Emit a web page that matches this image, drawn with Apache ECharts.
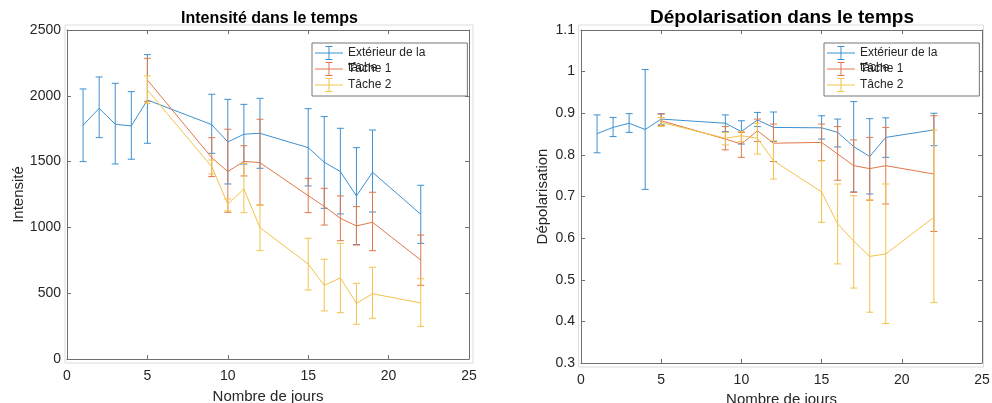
<!DOCTYPE html>
<html>
<head>
<meta charset="utf-8">
<script src="https://cdn.jsdelivr.net/npm/echarts@6/dist/echarts.min.js"></script>
<style>
html,body{margin:0;padding:0;background:#fff;}
#chart{width:992px;height:403px;}
</style>
</head>
<body>
<div id="chart"></div>
<script>
// ---- Data ----
var seriesNames = ['Extérieur de la tâche', 'Tâche 1', 'Tâche 2'];
var legendLabels = ['Extérieur de la', 'Tâche 1', 'Tâche 2'];

var daysExt = [1, 2, 3, 4, 5, 9, 10, 11, 12, 15, 16, 17, 18, 19, 22];
var daysTache = [5, 9, 10, 11, 12, 15, 16, 17, 18, 19, 22];

// Intensité
var intExt     = [1776, 1905, 1784, 1771, 1968, 1781, 1649, 1708, 1715, 1606, 1495, 1424, 1239, 1419, 1100];
var intExtLow  = [1500, 1682, 1482, 1518, 1639, 1563, 1330, 1481, 1449, 1315, 1145, 1102, 870, 1117, 879];
var intExtHigh = [2052, 2143, 2095, 2032, 2313, 2012, 1973, 1935, 1981, 1902, 1842, 1753, 1606, 1740, 1320];

var intT1     = [2120, 1530, 1424, 1502, 1492, 1241, 1160, 1069, 1011, 1039, 752];
var intT1Low  = [1958, 1386, 1115, 1391, 1170, 1112, 1018, 899, 866, 823, 560];
var intT1High = [2285, 1682, 1746, 1621, 1822, 1373, 1297, 1239, 1158, 1267, 942];

var intT2     = [2044, 1462, 1176, 1292, 998, 722, 560, 616, 423, 496, 426];
var intT2Low  = [1943, 1406, 1125, 1112, 823, 524, 365, 352, 264, 309, 248];
var intT2High = [2151, 1512, 1216, 1487, 1170, 917, 758, 879, 575, 697, 610];

// Dépolarisation
var depExt     = [0.851, 0.866, 0.876, 0.861, 0.886, 0.876, 0.856, 0.884, 0.866, 0.865, 0.854, 0.820, 0.796, 0.842, 0.860];
var depExtLow  = [0.805, 0.844, 0.854, 0.717, 0.872, 0.856, 0.826, 0.868, 0.832, 0.838, 0.819, 0.711, 0.706, 0.794, 0.822];
var depExtHigh = [0.896, 0.890, 0.899, 1.005, 0.899, 0.896, 0.882, 0.902, 0.903, 0.894, 0.886, 0.928, 0.887, 0.889, 0.900];

var depT1     = [0.882, 0.838, 0.826, 0.858, 0.828, 0.830, 0.802, 0.774, 0.767, 0.774, 0.754];
var depT1Low  = [0.870, 0.812, 0.794, 0.832, 0.784, 0.786, 0.739, 0.710, 0.691, 0.682, 0.616];
var depT1High = [0.898, 0.868, 0.854, 0.886, 0.874, 0.874, 0.868, 0.836, 0.842, 0.866, 0.894];

var depT2     = [0.878, 0.840, 0.846, 0.840, 0.786, 0.711, 0.634, 0.593, 0.556, 0.562, 0.650];
var depT2Low  = [0.868, 0.824, 0.832, 0.802, 0.742, 0.638, 0.538, 0.480, 0.422, 0.395, 0.445];
var depT2High = [0.890, 0.854, 0.856, 0.876, 0.834, 0.786, 0.730, 0.702, 0.692, 0.730, 0.860];

var xTicks = [0, 5, 10, 15, 20, 25];
var intTicks = [0, 500, 1000, 1500, 2000, 2500];
var depTicks = [0.3, 0.4, 0.5, 0.6, 0.7, 0.8, 0.9, 1, 1.1];

// ---- Styling ----
var colors = ['#3d91d2', '#e2784a', '#f2c34b'];
var FONT = 'Liberation Sans, Arial, sans-serif';
var axisColor = '#6f6f6f';
var textColor = '#262626';

function zip(xs, ys) { return xs.map(function (x, i) { return [x, ys[i]]; }); }
function zip3(xs, lo, hi) { return xs.map(function (x, i) { return [x, lo[i], hi[i]]; }); }

function errRender(params, api) {
  var x = api.value(0);
  var pLo = api.coord([x, api.value(1)]);
  var pHi = api.coord([x, api.value(2)]);
  var c = api.visual('color');
  var hw = 3.5;
  var st = { stroke: c, lineWidth: 1 };
  return {
    type: 'group',
    children: [
      { type: 'line', shape: { x1: pLo[0], y1: pLo[1], x2: pHi[0], y2: pHi[1] }, style: st },
      { type: 'line', shape: { x1: pHi[0] - hw, y1: pHi[1], x2: pHi[0] + hw, y2: pHi[1] }, style: st },
      { type: 'line', shape: { x1: pLo[0] - hw, y1: pLo[1], x2: pLo[0] + hw, y2: pLo[1] }, style: st }
    ]
  };
}

var series = [];
function addGroup(axisIdx, xsList, meanList, loList, hiList) {
  for (var k = 0; k < 3; k++) {
    series.push({
      type: 'line', name: seriesNames[k], xAxisIndex: axisIdx, yAxisIndex: axisIdx,
      data: zip(xsList[k], meanList[k]), showSymbol: false, symbol: 'none',
      color: colors[k], lineStyle: { width: 1, color: colors[k] }, z: 2 + k * 2, silent: true, animation: false
    });
    series.push({
      type: 'custom', name: seriesNames[k], xAxisIndex: axisIdx, yAxisIndex: axisIdx,
      data: zip3(xsList[k], loList[k], hiList[k]), renderItem: errRender,
      color: colors[k], z: 3 + k * 2, silent: true, animation: false
    });
  }
}
addGroup(0, [daysExt, daysTache, daysTache], [intExt, intT1, intT2], [intExtLow, intT1Low, intT2Low], [intExtHigh, intT1High, intT2High]);
addGroup(2, [daysExt, daysTache, daysTache], [depExt, depT1, depT2], [depExtLow, depT1Low, depT2Low], [depExtHigh, depT1High, depT2High]);

var legendIcon = 'path://M0,6.5h28v1h-28z M13.5,0h1v14h-1z M10.5,0h7v1h-7z M10.5,13h7v1h-7z';

function mkLegend(left) {
  return {
    left: left, top: 43, orient: 'vertical', selectedMode: false,
    padding: [3, 42, 4, 3], itemGap: 2, itemWidth: 28, itemHeight: 14,
    borderColor: '#777', borderWidth: 1, backgroundColor: '#fff',
    textStyle: { fontFamily: FONT, fontSize: 12, color: textColor },
    formatter: function (name) { return legendLabels[seriesNames.indexOf(name)]; },
    data: seriesNames.map(function (n, i) { return { name: n, icon: legendIcon, itemStyle: { color: colors[i], borderWidth: 0 } }; }),
    z: 10
  };
}

function xAx(grid, pos, labels, name, gap) {
  return {
    type: 'value', gridIndex: grid, position: pos, min: xTicks[0], max: xTicks[xTicks.length - 1], interval: 5,
    axisLine: { show: true, onZero: false, lineStyle: { color: axisColor, width: 1 } },
    axisTick: { show: true, inside: true, length: 4, lineStyle: { color: axisColor } },
    axisLabel: { show: labels, fontFamily: FONT, fontSize: 14, color: textColor, margin: 10 },
    splitLine: { show: false },
    name: labels ? name : '', nameLocation: 'middle', nameGap: gap,
    nameTextStyle: { fontFamily: FONT, fontSize: 15, color: textColor }
  };
}
function yAx(grid, pos, labels, ticks, interval, name, gap) {
  return {
    type: 'value', gridIndex: grid, position: pos, min: ticks[0], max: ticks[ticks.length - 1], interval: interval,
    axisLine: { show: true, onZero: false, lineStyle: { color: axisColor, width: 1 } },
    axisTick: { show: true, inside: true, length: 4, lineStyle: { color: axisColor } },
    axisLabel: { show: labels, fontFamily: FONT, fontSize: 14, color: textColor, margin: 6,
      formatter: function (v) { return String(Math.round(v * 1000) / 1000); } },
    splitLine: { show: false },
    name: labels ? name : '', nameLocation: 'middle', nameGap: gap, nameRotate: 90,
    nameTextStyle: { fontFamily: FONT, fontSize: 15, color: textColor }
  };
}

var option = {
  backgroundColor: '#fff',
  animation: false,
  grid: [
    { left: 67, top: 30, width: 402, height: 329, containLabel: false, outerBoundsMode: 'none' },
    { left: 581, top: 30, width: 401, height: 333, containLabel: false, outerBoundsMode: 'none' }
  ],
  xAxis: [
    xAx(0, 'bottom', true, 'Nombre de jours', 30),
    xAx(0, 'top', false, '', 0),
    xAx(1, 'bottom', true, 'Nombre de jours', 29),
    xAx(1, 'top', false, '', 0)
  ],
  yAxis: [
    yAx(0, 'left', true, intTicks, 500, 'Intensité', 41),
    yAx(0, 'right', false, intTicks, 500, '', 0),
    yAx(1, 'left', true, depTicks, 0.1, 'Dépolarisation', 31),
    yAx(1, 'right', false, depTicks, 0.1, '', 0)
  ],
  legend: [mkLegend(312), mkLegend(824)],
  graphic: [
    { type: 'rect', shape: { x: 65, y: 25, width: 408, height: 338 }, style: { fill: 'none', stroke: '#dcdcdc', lineWidth: 1 }, z: -1, silent: true },
    { type: 'rect', shape: { x: 578.5, y: 25, width: 405, height: 342 }, style: { fill: 'none', stroke: '#dcdcdc', lineWidth: 1 }, z: -1, silent: true },
    { type: 'text', x: 269.5, y: 19, style: { text: 'Intensité dans le temps', fontFamily: FONT, fontSize: 16, fontWeight: 'bold', fill: '#000', textAlign: 'center', textVerticalAlign: 'middle' }, z: 20, silent: true },
    { type: 'text', x: 782, y: 18, style: { text: 'Dépolarisation dans le temps', fontFamily: FONT, fontSize: 19, fontWeight: 'bold', fill: '#000', textAlign: 'center', textVerticalAlign: 'middle' }, z: 20, silent: true },
    { type: 'text', x: 348, y: 68, style: { text: 'tâche', fontFamily: FONT, fontSize: 12, fill: textColor, textAlign: 'left', textVerticalAlign: 'middle' }, z: 30, silent: true },
    { type: 'text', x: 860, y: 68, style: { text: 'tâche', fontFamily: FONT, fontSize: 12, fill: textColor, textAlign: 'left', textVerticalAlign: 'middle' }, z: 30, silent: true }
  ],
  series: series
};

var chart = echarts.init(document.getElementById('chart'), null, { renderer: 'canvas' });
chart.setOption(option);
</script>
</body>
</html>
